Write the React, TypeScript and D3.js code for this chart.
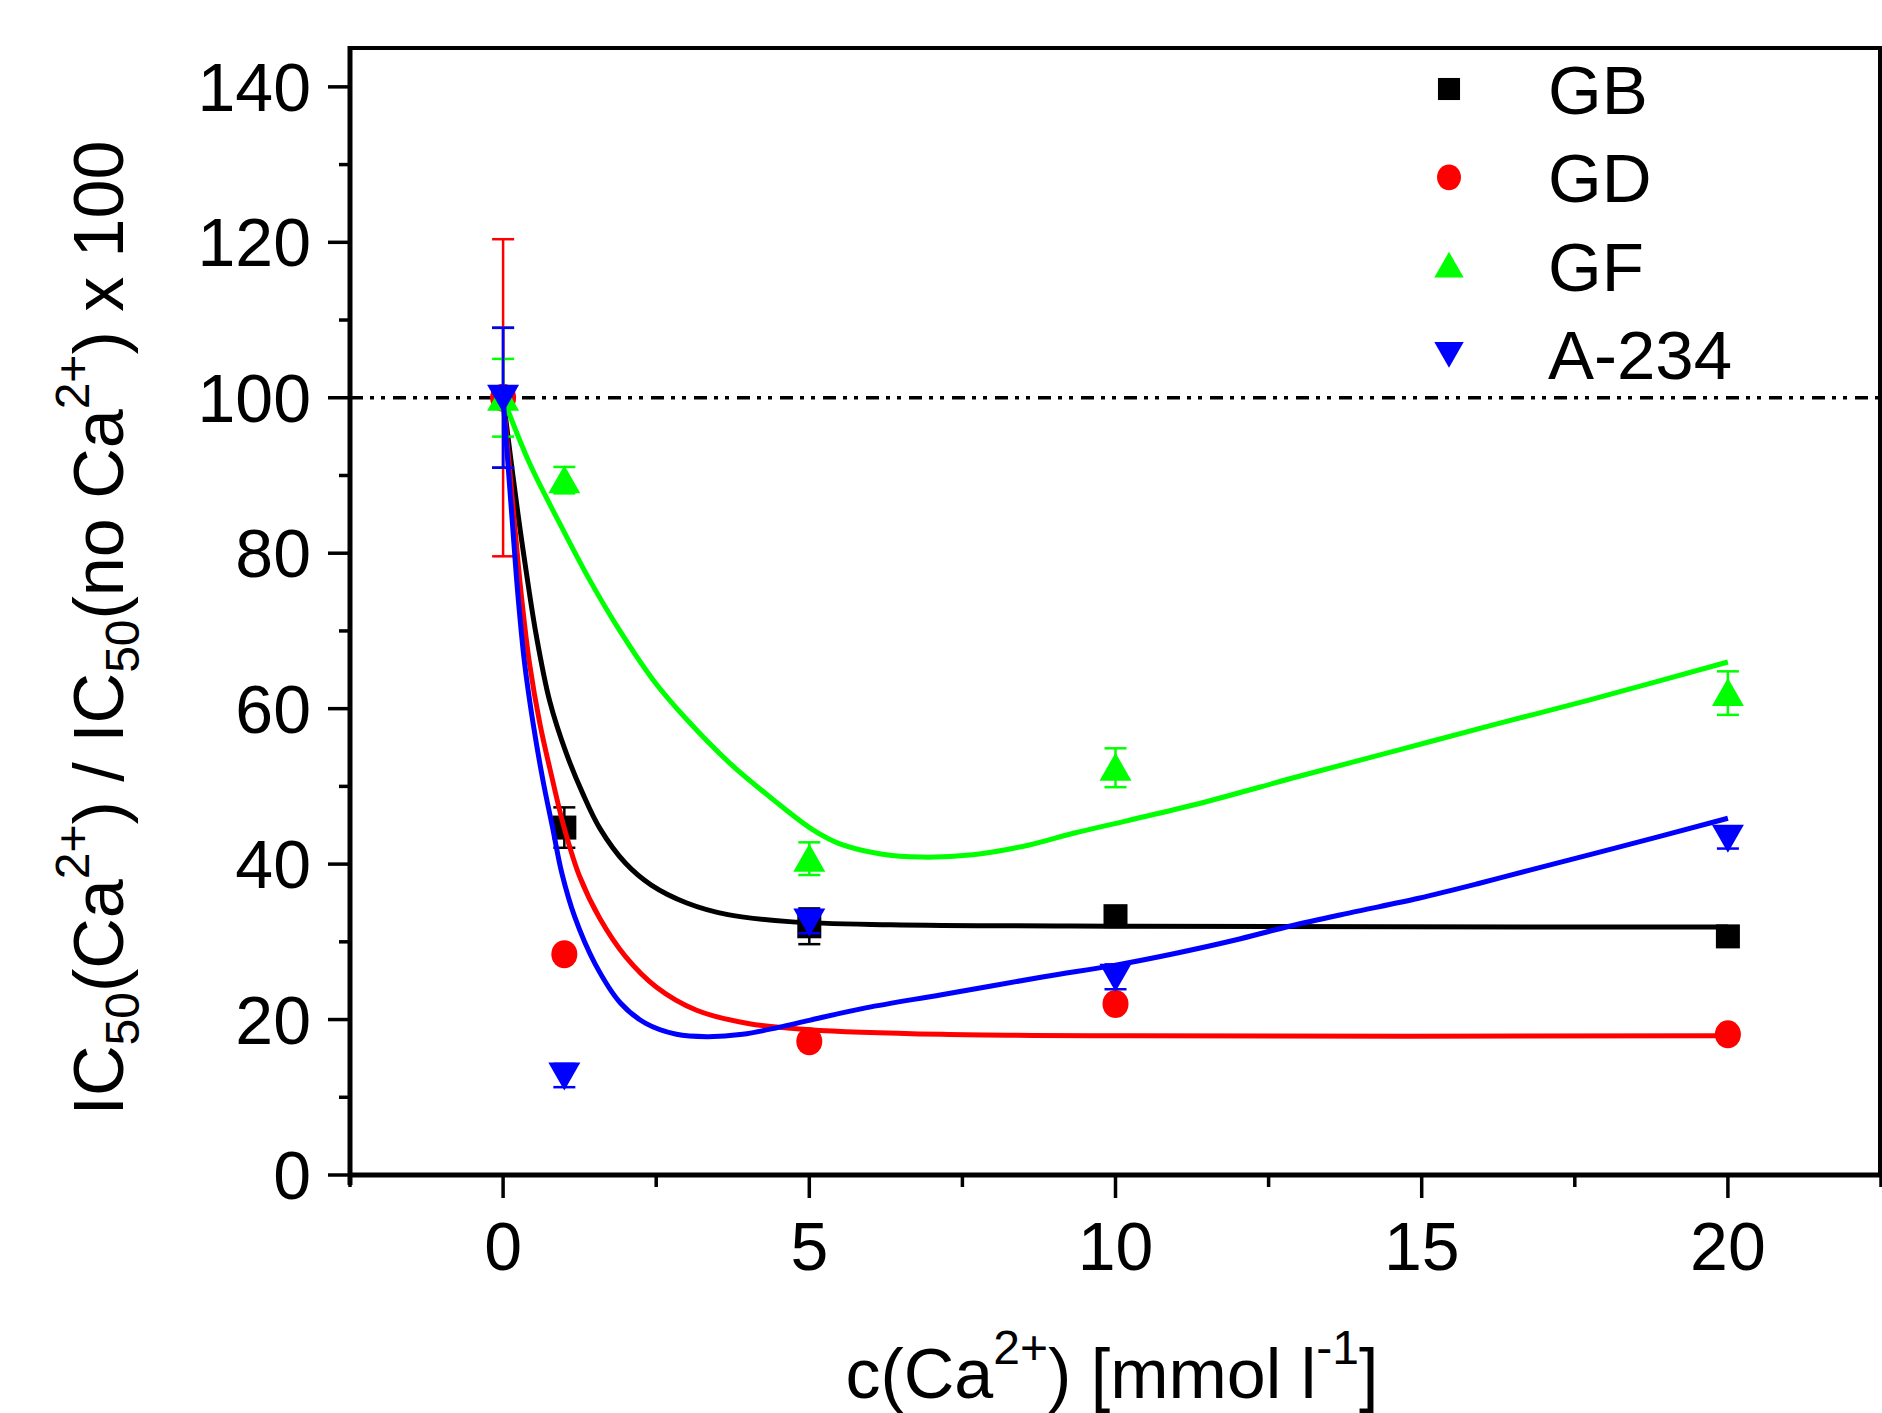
import * as d3 from "d3";

// measured points (mean ± sd)
const concentrations = [0, 1, 5, 10, 20];
const gbValues = [100, 44.7, 32.0, 33.3, 30.7];
const gbErrors = [9, 2.6, 2.3, 1, 1];
const gdValues = [100, 28.4, 17.2, 22.0, 18.1];
const gdErrors = [20.4, 0.8, 0.8, 0.8, 0.8];
const gfValues = [100, 89.4, 40.7, 52.4, 62.0];
const gfErrors = [5, 1.7, 2.1, 2.5, 2.8];
const a234Values = [100, 12.8, 32.6, 25.5, 43.4];
const a234Errors = [9, 1.5, 1.5, 1.6, 1.4];

// fitted curves
const gbFitX = [0, 0.16, 0.27, 0.38, 0.54, 0.76, 1.03, 1.3, 1.58, 2.0, 2.42, 3.0, 3.67, 4.67, 6.33, 10.2, 20];
const gbFitY = [100, 90.0, 83.5, 77.5, 69.5, 61.0, 54.3, 49.1, 44.6, 40.1, 37.3, 35.0, 33.5, 32.6, 32.2, 32.0, 31.9];
const gdFitX = [0, 0.11, 0.19, 0.3, 0.43, 0.6, 0.79, 1.0, 1.25, 1.58, 2.0, 2.5, 3.16, 4.0, 5.0, 7.16, 10.2, 20];
const gdFitY = [100, 90.5, 83.5, 74.4, 65.9, 58.1, 51.4, 44.6, 38.4, 33.0, 28.1, 24.2, 21.2, 19.5, 18.7, 18.1, 17.9, 17.9];
const gfFitX = [0, 0.43, 0.92, 1.41, 1.9, 2.45, 3.0, 3.7, 4.41, 5.06, 5.5, 6.17, 6.83, 7.67, 8.5, 9.33, 10.2, 11.37, 13.0, 14.63, 16.26, 17.73, 20];
const gfFitY = [100, 91.6, 83.9, 76.6, 70.1, 63.7, 58.6, 53.0, 48.3, 44.4, 42.6, 41.3, 40.9, 41.2, 42.3, 44.0, 45.6, 47.8, 51.3, 54.7, 58.1, 61.1, 66.0];
const a234FitX = [0, 0.08, 0.16, 0.24, 0.35, 0.49, 0.65, 0.81, 0.96, 1.17, 1.5, 1.92, 2.33, 2.83, 3.33, 3.91, 4.5, 5.0, 5.92, 7.16, 8.83, 10.0, 10.97, 11.94, 12.84, 13.81, 14.95, 15.93, 16.75, 17.89, 20];
const a234FitY = [100, 91.4, 83.0, 74.8, 65.9, 58.1, 50.8, 44.6, 38.8, 33.2, 27.2, 22.1, 19.5, 18.1, 17.8, 18.1, 19.0, 19.9, 21.5, 23.2, 25.5, 27.0, 28.5, 30.2, 32.0, 33.7, 35.6, 37.5, 39.2, 41.5, 45.9];

const xMajorTicks = [0, 5, 10, 15, 20];
const xMinorTicks = [-2.5, 2.5, 7.5, 12.5, 17.5, 22.5];
const yMajorTicks = [0, 20, 40, 60, 80, 100, 120, 140];
const yMinorTicks = [10, 30, 50, 70, 90, 110, 130];
const referenceLevel = 100;

const FONT = "'Liberation Sans', Arial, sans-serif";
const FS = 68;
const SUB = 48;

const W = 1882;
const H = 1413;
const left = 350;
const right = 1880;
const top = 48;
const bottom = 1175;

const x = d3.scaleLinear().domain([-2.5, 22.5]).range([left, 1881]);
const y = d3.scaleLinear().domain([0, 145]).range([bottom, top]);

type Shape = "square" | "circle" | "up" | "down";

const series = [
  { name: "GB", color: "#000000", shape: "square" as Shape, values: gbValues, errors: gbErrors, fx: gbFitX, fy: gbFitY },
  { name: "GD", color: "#ff0000", shape: "circle" as Shape, values: gdValues, errors: gdErrors, fx: gdFitX, fy: gdFitY },
  { name: "GF", color: "#00ff00", shape: "up" as Shape, values: gfValues, errors: gfErrors, fx: gfFitX, fy: gfFitY },
  { name: "A-234", color: "#0000ff", shape: "down" as Shape, values: a234Values, errors: a234Errors, fx: a234FitX, fy: a234FitY },
];

const Marker = ({ shape, cx, cy, color, k = 1 }: { shape: Shape; cx: number; cy: number; color: string; k?: number }) => {
  if (shape === "square")
    return <rect x={cx - 12 * k} y={cy - 12 * k} width={24 * k} height={24 * k} fill={color} />;
  if (shape === "circle") return <ellipse cx={cx} cy={cy} rx={13 * k} ry={14 * k} fill={color} />;
  if (shape === "up")
    return <path d={`M${cx},${cy - 15 * k}L${cx + 16 * k},${cy + 13 * k}L${cx - 16 * k},${cy + 13 * k}Z`} fill={color} />;
  return <path d={`M${cx},${cy + 15 * k}L${cx + 16 * k},${cy - 13 * k}L${cx - 16 * k},${cy - 13 * k}Z`} fill={color} />;
};

const App = () => {
  const line = d3
    .line<[number, number]>()
    .x((d) => x(d[0]))
    .y((d) => y(d[1]))
    .curve(d3.curveCatmullRom.alpha(0.5));

  return (
    <svg
      width={W}
      height={H}
      style={{ position: "absolute", left: 0, top: 0, background: "#fff" }}
      fontFamily={FONT}
    >
      <rect width={W} height={H} fill="#fff" />

      {/* reference line at 100 */}
      <line
        x1={left}
        x2={right}
        y1={y(referenceLevel)}
        y2={y(referenceLevel)}
        stroke="#000"
        strokeWidth={3.5}
        strokeDasharray="13,7,4,7,4,8"
      />

      {series.map((s) => (
        <g key={s.name}>
          <path
            d={line(s.fx.map((v, i) => [v, s.fy[i]] as [number, number])) || ""}
            fill="none"
            stroke={s.color}
            strokeWidth={5}
          />
          {concentrations.map((c, i) => {
            const cx = x(c);
            const y1 = y(s.values[i] + s.errors[i]);
            const y2 = y(s.values[i] - s.errors[i]);
            return (
              <g key={c} stroke={s.color} strokeWidth={2.5}>
                <line x1={cx} x2={cx} y1={y1} y2={y2} />
                <line x1={cx - 11} x2={cx + 11} y1={y1} y2={y1} />
                <line x1={cx - 11} x2={cx + 11} y1={y2} y2={y2} />
              </g>
            );
          })}
          {concentrations.map((c, i) => (
            <Marker key={c} shape={s.shape} cx={x(c)} cy={y(s.values[i])} color={s.color} />
          ))}
        </g>
      ))}

      {/* frame */}
      <rect x={left} y={top} width={right - left} height={bottom - top} fill="none" stroke="#000" strokeWidth={4} />
      <line x1={left} x2={left} y1={top - 2} y2={bottom + 10} stroke="#000" strokeWidth={5} />
      <line x1={left - 2} x2={right} y1={bottom} y2={bottom} stroke="#000" strokeWidth={5} />

      {/* axis ticks */}
      <g stroke="#000" strokeWidth={3.5}>
        {yMajorTicks.map((t) => (
          <line key={t} x1={left - 22} x2={left} y1={y(t)} y2={y(t)} />
        ))}
        {yMinorTicks.map((t) => (
          <line key={t} x1={left - 11} x2={left} y1={y(t)} y2={y(t)} />
        ))}
        {xMajorTicks.map((t) => (
          <line key={t} x1={x(t)} x2={x(t)} y1={bottom} y2={bottom + 23} />
        ))}
        {xMinorTicks.map((t) => (
          <line key={t} x1={x(t)} x2={x(t)} y1={bottom} y2={bottom + 12} />
        ))}
      </g>

      {yMajorTicks.map((t) => (
        <text key={t} x={311} y={y(t) + 24} textAnchor="end" fontSize={FS}>
          {t}
        </text>
      ))}
      {xMajorTicks.map((t) => (
        <text key={t} x={x(t)} y={1270} textAnchor="middle" fontSize={FS}>
          {t}
        </text>
      ))}

      {/* y axis title */}
      <text transform={`translate(123, 628) rotate(-90)`} textAnchor="middle" fontSize={FS + 2}>
        <tspan>IC</tspan>
        <tspan fontSize={SUB} dy={16}>50</tspan>
        <tspan dy={-16}>(Ca</tspan>
        <tspan fontSize={SUB} dy={-34}>2+</tspan>
        <tspan dy={34}>) / IC</tspan>
        <tspan fontSize={SUB} dy={16}>50</tspan>
        <tspan dy={-16}>(no Ca</tspan>
        <tspan fontSize={SUB} dy={-34}>2+</tspan>
        <tspan dy={34}>) x 100</tspan>
      </text>

      {/* x axis title */}
      <text x={1112} y={1398} textAnchor="middle" fontSize={FS + 2}>
        <tspan>c(Ca</tspan>
        <tspan fontSize={SUB} dy={-34}>2+</tspan>
        <tspan dy={34}>) [mmol l</tspan>
        <tspan fontSize={SUB} dy={-34}>-1</tspan>
        <tspan dy={34}>]</tspan>
      </text>

      {/* legend */}
      {series.map((s, i) => (
        <g key={s.name}>
          <Marker shape={s.shape} cx={1449} cy={89 + i * 88.3} color={s.color} k={0.92} />
          <text x={1548} y={114 + i * 88.3} fontSize={FS + 1}>
            {s.name}
          </text>
        </g>
      ))}
    </svg>
  );
};

export default App;
